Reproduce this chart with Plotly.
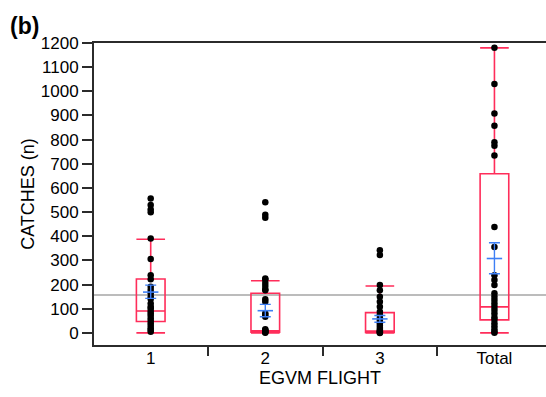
import plotly.graph_objects as go

# Catches per trap for each EGVM flight, plus the combined total
categories = ["1", "2", "3", "Total"]

flight1 = [556, 529, 511, 499, 391, 306, 239, 222, 191, 178, 164, 150, 140,
           122, 108, 102, 91, 81, 72, 61, 50, 40, 30, 19, 12, 5]
flight2 = [541, 489, 477, 225, 221, 207, 194, 181, 177, 139, 129, 81, 74,
           67, 15, 12, 8, 5, 3, 1]
flight3 = [342, 322, 198, 177, 150, 129, 108, 88, 75, 62, 50, 40, 30, 20,
           12, 8, 5, 2, 0]
total = [1180, 1030, 908, 858, 789, 775, 734, 438, 356, 239, 219, 198, 164,
         150, 136, 122, 108, 95, 80, 65, 54, 40, 28, 15, 5, 1]

# Quantile box statistics for each group
q1_vals = [47, 3, 2, 54]
median_vals = [91, 9, 8, 108]
q3_vals = [223, 164, 84, 659]
lower_whisker = [0, 0, 0, 0]
upper_whisker = [388, 216, 194, 1180]

# Group means with their 95% confidence limits
mean_vals = [169, 92, 58, 308]
ci_low = [143, 67, 44, 245]
ci_high = [198, 118, 72, 373]

# Overall mean drawn across the panel
overall_mean = 157

BOX_COLOR = "#ff2d5a"
MEAN_COLOR = "#3d7ff5"
AXIS_COLOR = "#2b2b2b"
FONT = "Liberation Sans, Arial, Helvetica, sans-serif"

fig = go.Figure()

fig.add_trace(go.Box(
    x=categories,
    q1=q1_vals,
    median=median_vals,
    q3=q3_vals,
    lowerfence=lower_whisker,
    upperfence=upper_whisker,
    boxpoints=False,
    width=0.25,
    whiskerwidth=1,
    line=dict(color=BOX_COLOR, width=1.6),
    fillcolor="rgba(0,0,0,0)",
    showlegend=False,
    hoverinfo="skip",
))

groups = [flight1, flight2, flight3, total]
for cat, values in zip(categories, groups):
    fig.add_trace(go.Scatter(
        x=[cat] * len(values),
        y=values,
        mode="markers",
        marker=dict(color="black", size=6.5),
        showlegend=False,
    ))

fig.add_trace(go.Scatter(
    x=categories,
    y=mean_vals,
    mode="markers",
    marker=dict(symbol="line-ew", size=11,
                line=dict(color=MEAN_COLOR, width=1.6)),
    error_y=dict(
        type="data",
        symmetric=False,
        array=[h - m for h, m in zip(ci_high, mean_vals)],
        arrayminus=[m - lo for m, lo in zip(mean_vals, ci_low)],
        color=MEAN_COLOR,
        thickness=1.4,
        width=5.5,
    ),
    showlegend=False,
))

fig.add_shape(
    type="line", xref="paper", yref="y",
    x0=0, x1=1, y0=overall_mean, y1=overall_mean,
    line=dict(color="#a6a6a6", width=1.6),
    layer="below",
)

fig.add_annotation(
    text="<b>(b)</b>", xref="paper", yref="paper",
    x=(7 - 93.5) / 452.5, y=1 + (42.5 - 10) / 302.5,
    xanchor="left", yanchor="top", showarrow=False,
    font=dict(family=FONT, size=23, color="black"),
)

fig.update_layout(
    width=546, height=397,
    margin=dict(l=93.5, r=0, t=42.5, b=52),
    paper_bgcolor="white",
    plot_bgcolor="white",
    font=dict(family=FONT, size=17, color="black"),
    xaxis=dict(
        type="category",
        categoryorder="array",
        categoryarray=categories,
        range=[-0.495, 3.45],
        tickson="boundaries",
        ticks="outside", ticklen=9, tickwidth=1.5, tickcolor=AXIS_COLOR,
        ticklabelstandoff=-3,
        showline=True, linecolor=AXIS_COLOR, linewidth=2, mirror=True,
        showgrid=False, zeroline=False,
        tickfont=dict(size=17),
        title=dict(text="EGVM FLIGHT", font=dict(size=18), standoff=1),
    ),
    yaxis=dict(
        range=[-50, 1200],
        tickmode="linear", tick0=0, dtick=100,
        ticks="outside", ticklen=10, tickwidth=1.5, tickcolor=AXIS_COLOR,
        showline=True, linecolor=AXIS_COLOR, linewidth=2, mirror=False,
        showgrid=False, zeroline=False,
        tickfont=dict(size=17),
        title=dict(text="CATCHES (n)", font=dict(size=18), standoff=1),
    ),
)

fig.write_html("out.html")
